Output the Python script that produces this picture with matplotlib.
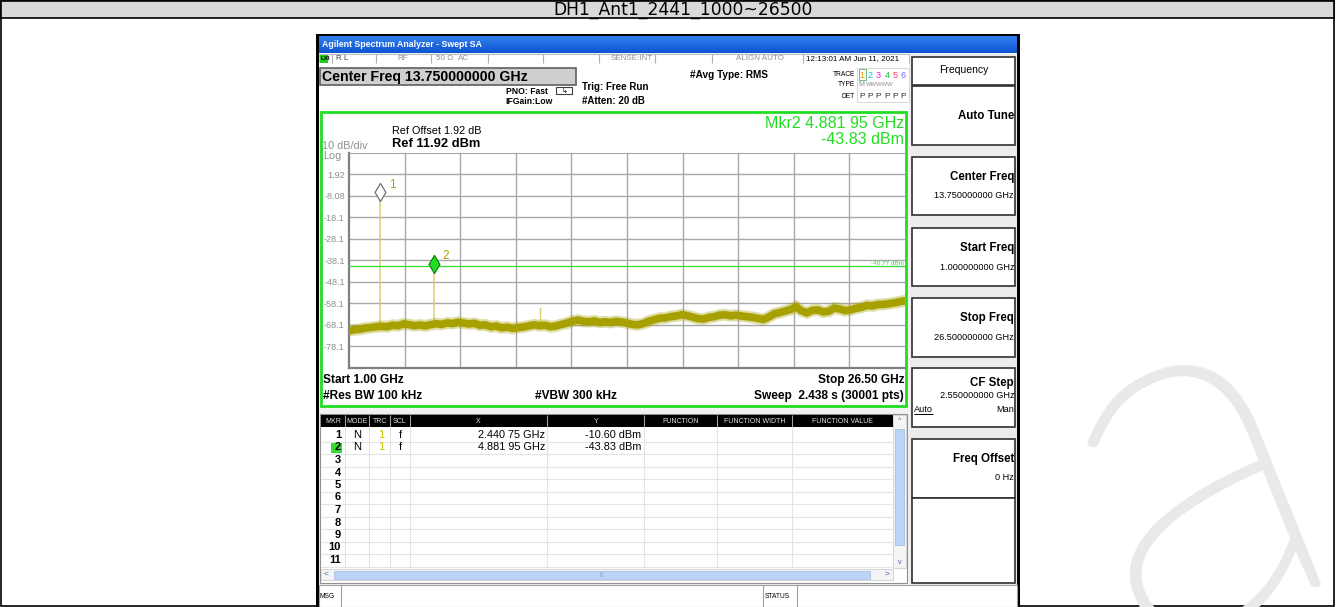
import numpy as np
import matplotlib.pyplot as plt
import matplotlib.patheffects as pe
from matplotlib.patches import Rectangle
from matplotlib.path import Path
from matplotlib.markers import MarkerStyle

W, H = 1336, 607

# sweep setup
start_ghz, stop_ghz = 1.0, 26.5
ref_level = 11.92
db_per_div = 10
y_tick_vals = [1.92, -8.08, -18.08, -28.08, -38.08, -48.08, -58.08, -68.08, -78.08]
y_tick_labels = ['1.92', '-8.08', '-18.1', '-28.1', '-38.1', '-48.1', '-58.1', '-68.1', '-78.1']

# trace level every 0.25 GHz from 1.0 to 26.5 GHz (dBm)
trace_dbm = [-70.8, -70.3, -70.1, -69.5, -69.3, -68.9, -68.7, -68.9, -68.2, -68.4,
             -67.6, -67.9, -68.4, -68.1, -68.5, -67.9, -67.5, -67.8, -67.1, -67.4,
             -66.8, -67.2, -67.6, -67.3, -68.2, -68.0, -68.9, -68.6, -69.4, -69.1,
             -69.7, -69.3, -69.0, -68.5, -68.0, -68.4, -68.2, -68.9, -68.5, -67.8,
             -67.2, -66.3, -65.8, -66.4, -66.6, -66.2, -66.9, -66.6, -66.9, -66.4,
             -66.7, -67.2, -67.8, -68.0, -67.4, -66.3, -65.6, -64.9, -64.8, -64.2,
             -63.9, -63.3, -63.7, -64.4, -65.1, -65.3, -64.6, -64.2, -63.5, -63.3,
             -63.8, -63.5, -63.9, -64.2, -64.5, -65.0, -65.5, -64.4, -62.9, -62.3,
             -61.6, -60.9, -59.6, -61.5, -62.4, -61.3, -61.1, -62.0, -61.7, -60.2,
             -60.6, -61.4, -61.1, -60.3, -59.9, -59.0, -59.2, -58.6, -58.5, -58.2,
             -57.8, -57.3, -56.8]

# markers
mkr_freq = [2.44075, 4.88195]
mkr_level = [-10.60, -43.83]
mkr_x_text = ['2.440 75 GHz', '4.881 95 GHz']
mkr_y_text = ['-10.60 dBm', '-43.83 dBm']
spur_freq, spur_level = 9.76, -60.3
display_line = -40.77

FONT = ['Liberation Sans', 'DejaVu Sans']
OLIVE = '#a6a000'
GREEN = '#22dd22'

fig = plt.figure(figsize=(W / 100, H / 100), dpi=100)
bg = fig.add_axes([0, 0, 1, 1])
bg.set_xlim(0, W)
bg.set_ylim(H, 0)
bg.axis('off')


def box(x0, y0, x1, y1, fc='none', ec='none', lw=1.0, z=1):
    bg.add_patch(Rectangle((x0, y0), x1 - x0, y1 - y0, facecolor=fc,
                           edgecolor=ec, linewidth=lw, zorder=z))


def hline(y, x0, x1, color='black', lw=1.0, z=2):
    bg.plot([x0, x1], [y, y], color=color, lw=lw, zorder=z, solid_capstyle='butt')


def vline(x, y0, y1, color='black', lw=1.0, z=2):
    bg.plot([x, x], [y0, y1], color=color, lw=lw, zorder=z, solid_capstyle='butt')


def t(x, y, s, size=7, color='black', ha='left', weight='normal', **kw):
    bg.text(x, y, s, fontsize=size, color=color, ha=ha, va='center',
            fontweight=weight, family=FONT, zorder=5, **kw)


# document frame and title row
box(1, 1, 1334, 606, fc='white', ec='black', lw=1.2)
box(1, 1, 1334, 18, fc='#d9d9d9', ec='black', lw=1.2)
bg.text(683, 15, 'DH1_Ant1_2441_1000~26500', fontsize=12.3, ha='center', va='baseline',
        family=['DejaVu Sans'], zorder=5)

# faint watermark glyph in the lower right
bg.text(1195, 484, 'a', fontsize=370, color='#e9e9e9', rotation=22,
        ha='center', va='center', family=['Lato', 'Liberation Sans'],
        fontweight='light', zorder=1.2,
        path_effects=[pe.withStroke(linewidth=4, foreground='#e9e9e9')])

# instrument window frame
box(316, 34, 1020, 607, fc='black', z=1.5)
box(319, 53, 1017, 607, fc='#f2f2f2', z=1.5)

# blue caption bar
grad = np.linspace(0, 1, 20)[:, None]
caption = np.dstack([0.05 + 0.15 * (1 - grad), 0.33 + 0.17 * (1 - grad), 0.82 + 0.12 * (1 - grad)])
bg.imshow(caption, extent=(319, 1017, 53, 36), aspect='auto', zorder=1.6)
t(322, 44.5, 'Agilent Spectrum Analyzer - Swept SA', size=6.3, color='white', weight='bold')

# status row
box(319, 54, 909, 63, fc='white', ec='#c0c0c0', lw=0.8, z=1.6)
for sx in [332, 376, 431, 488, 543, 599, 655, 712, 803]:
    vline(sx, 54, 63, color='#b0b0b0', lw=0.8)
box(320, 54.5, 328, 62.5, fc='#22cc22', z=3)
t(320.5, 58.5, 'LXI', size=4.5, color='black', weight='bold')
t(336, 58.5, 'R L', size=5.8, color='#404040')
t(403, 58.5, 'RF', size=5.8, color='#909090', ha='center')
t(436, 58.5, '50 Ω', size=5.8, color='#909090')
t(458, 58.5, 'AC', size=5.8, color='#909090')
t(653, 58.5, 'SENSE:INT', size=5.8, color='#909090', ha='right')
t(760, 58.5, 'ALIGN AUTO', size=5.8, color='#909090', ha='center')
t(806, 58.5, '12:13:01 AM Jun 11, 2021', size=5.8, color='black')

# settings strip
box(319, 63, 909, 111, fc='white', z=1.6)
box(320, 68, 576, 85, fc='#cfcfcf', ec='#606060', lw=1.2, z=1.7)
t(322, 77, 'Center Freq 13.750000000 GHz', size=10.2, weight='bold')
t(548, 91, 'PNO: Fast', size=6.2, weight='bold', ha='right')
t(553, 102, 'IFGain:Low', size=6.2, weight='bold', ha='right')
bg.add_patch(Rectangle((556, 87), 16, 7, facecolor='white', edgecolor='#404040',
                       linewidth=0.8, zorder=3))
t(564, 91.5, '↳', size=5, ha='center')
t(582, 87, 'Trig: Free Run', size=7, weight='bold')
t(582, 101, '#Atten: 20 dB', size=7, weight='bold')
t(690, 75, '#Avg Type: RMS', size=7.2, weight='bold')
t(855, 74, 'TRACE', size=4.8, ha='right')
t(855, 85, 'TYPE', size=4.8, ha='right')
t(855, 96, 'DET', size=4.8, ha='right')
box(857, 68, 909, 102, fc='white', ec='#d0d0d0', lw=0.6, z=1.7)
trace_cols = ['#e89a00', '#00c0e0', '#e020e0', '#20c040', '#ff3060', '#8060ff']
for i, c in enumerate(trace_cols):
    px = 862 + i * 8.3
    t(px, 75, str(i + 1), size=6.5, color=c, ha='center')
    t(px, 96, 'P', size=6.0, color='#303030', ha='center')
box(858.5, 69, 866, 80, ec='#70c070', lw=0.7, z=3)
t(858.5, 85, 'M', size=5.0, color='#909090')
t(866, 85, 'WWWWW', size=4.2, color='#909090')

# plot panel
box(321, 112, 906, 406, fc='white', ec=GREEN, lw=2.0, z=1.7)
t(392, 131, 'Ref Offset 1.92 dB', size=7.8)
t(392, 144, 'Ref 11.92 dBm', size=9.3, weight='bold')
t(322, 146, '10 dB/div', size=7.8, color='#909090')
t(323, 156, 'Log', size=7.8, color='#909090')
t(904, 123, 'Mkr2 4.881 95 GHz', size=11.5, color=GREEN, ha='right')
t(904, 140, '-43.83 dBm', size=11.5, color=GREEN, ha='right')
t(323, 380, 'Start 1.00 GHz', size=8.6, weight='bold')
t(323, 396, '#Res BW 100 kHz', size=8.6, weight='bold')
t(535, 396, '#VBW 300 kHz', size=8.6, weight='bold')
t(904, 380, 'Stop 26.50 GHz', size=8.6, weight='bold', ha='right')
t(904, 396, 'Sweep  2.438 s (30001 pts)', size=8.6, weight='bold', ha='right')

# marker table
box(320, 414, 907, 583, fc='white', ec='#909090', lw=0.8, z=1.7)
box(321, 415, 893, 427, fc='black', z=2)
col_sep = [345, 369, 390, 410, 547, 644, 717, 792]
for cx in col_sep:
    vline(cx, 415, 427, color='#a0a0a0', lw=0.8, z=3)
    vline(cx, 428, 567, color='#e4e4e4', lw=0.8)
heads = [(333, 'MKR'), (357, 'MODE'), (380, 'TRC'), (400, 'SCL'), (478, 'X'),
         (596, 'Y'), (681, 'FUNCTION'), (755, 'FUNCTION WIDTH'), (843, 'FUNCTION VALUE')]
for hx, s in heads:
    t(hx, 421.5, s, size=5.0, color='#e0e0e0', ha='center')
row_y = [435 + 12.5 * i for i in range(11)]
for i, ry in enumerate(row_y):
    hline(ry + 6.5, 321, 893, color='#e4e4e4', lw=0.8)
    if i == 1:
        box(331, ry - 5, 342, ry + 5, fc='#33dd33', z=3)
    t(341, ry, str(i + 1), size=8, weight='bold', ha='right')
for i in range(len(mkr_freq)):
    ry = row_y[i]
    t(357, ry, 'N', size=8, ha='center')
    t(381, ry, '1', size=8, color='#c8c000', ha='center')
    t(400, ry, 'f', size=8, ha='center')
    t(545, ry, mkr_x_text[i], size=7.8, ha='right')
    t(641, ry, mkr_y_text[i], size=7.8, ha='right')
# scroll bars
box(893, 415, 906, 568, fc='#f4f4f4', ec='#d0d0d0', lw=0.6, z=1.8)
box(895, 429, 904, 545, fc='#bcd4f4', ec='#a8c0e8', lw=0.6, z=2)
t(899.5, 421, '^', size=5, color='#4060a0', ha='center')
t(899.5, 562, 'v', size=5, color='#4060a0', ha='center')
box(321, 569, 893, 580, fc='#f4f4f4', ec='#d0d0d0', lw=0.6, z=1.8)
box(334, 570.5, 870, 579, fc='#bcd4f4', ec='#a8c0e8', lw=0.6, z=2)
t(326, 574.5, '<', size=6, color='#4060a0', ha='center')
t(887, 574.5, '>', size=6, color='#4060a0', ha='center')
t(602, 574.5, '|||', size=4, color='#90a8d0', ha='center')

# message line
box(319, 585, 1017, 607, fc='white', ec='#a0a0a0', lw=0.8, z=1.7)
vline(341, 585, 607, color='#a0a0a0', lw=0.8)
vline(763, 585, 607, color='#a0a0a0', lw=0.8)
vline(797, 585, 607, color='#a0a0a0', lw=0.8)
t(320, 596, 'MSG', size=4.8)
t(765, 596, 'STATUS', size=4.8)

# softkey panel
box(910, 54, 1017, 585, fc='#ececec', z=1.6)
keys = [(57, 85), (86, 145), (157, 215), (228, 286), (298, 357), (368, 427), (439, 498), (498, 583)]
for y0, y1 in keys:
    box(912, y0, 1015, y1, fc='white', ec='#303030', lw=1.2, z=2)
t(964, 70, 'Frequency', size=7.5, ha='center')
t(1014, 116, 'Auto Tune', size=8.3, weight='bold', ha='right')
t(1014, 177, 'Center Freq', size=8.3, weight='bold', ha='right')
t(1014, 196, '13.750000000 GHz', size=6.6, ha='right')
t(1014, 248, 'Start Freq', size=8.3, weight='bold', ha='right')
t(1014, 267, '1.000000000 GHz', size=6.6, ha='right')
t(1014, 318, 'Stop Freq', size=8.3, weight='bold', ha='right')
t(1014, 337, '26.500000000 GHz', size=6.6, ha='right')
t(1014, 383, 'CF Step', size=8.3, weight='bold', ha='right')
t(1014, 396, '2.550000000 GHz', size=6.6, ha='right')
t(914, 409, 'Auto', size=6.6)
hline(414, 914, 933, lw=0.7, z=3)
t(1014, 409, 'Man', size=6.6, ha='right')
t(1014, 459, 'Freq Offset', size=8.3, weight='bold', ha='right')
t(1014, 478, '0 Hz', size=6.6, ha='right')

# graticule
gl, gr, gt, gb = 349, 905, 153, 368
ax = fig.add_axes([gl / W, 1 - gb / H, (gr - gl) / W, (gb - gt) / H])
ax.set_xlim(start_ghz, stop_ghz)
ax.set_ylim(ref_level - 10 * db_per_div, ref_level)
ax.set_facecolor('white')
ax.set_xticks(np.linspace(start_ghz, stop_ghz, 11)[1:-1])
ax.set_xticklabels([])
ax.set_yticks(y_tick_vals)
ax.set_yticklabels(y_tick_labels)
ax.tick_params(length=0, pad=3)
ax.tick_params(axis='y', labelsize=6.6, labelcolor='#909090')
for lab in ax.get_yticklabels():
    lab.set_family(FONT)
ax.grid(True, color='#a8a8a8', lw=1.0)
for side in ['left', 'bottom']:
    ax.spines[side].set_color('#808080')
    ax.spines[side].set_linewidth(1.6)
ax.spines['top'].set_color('#a8a8a8')
ax.spines['right'].set_visible(False)

freq_grid = np.linspace(start_ghz, stop_ghz, len(trace_dbm))
# fuzzy fringe, then the solid core of the noisy trace
ax.plot(freq_grid, trace_dbm, color=OLIVE, lw=8.5, alpha=0.35, zorder=3,
        solid_joinstyle='miter')
ax.plot(freq_grid, trace_dbm, color=OLIVE, lw=5.5, zorder=3.1, solid_joinstyle='miter')

# signal spikes rising from the floor
for f, lvl in zip(mkr_freq, mkr_level):
    base = np.interp(f, freq_grid, trace_dbm)
    ax.plot([f, f], [base, lvl], color='#d8d070', lw=1.1, zorder=2.5)
ax.plot([spur_freq, spur_freq],
        [np.interp(spur_freq, freq_grid, trace_dbm), spur_level],
        color='#d8d070', lw=1.0, zorder=2.5)

# display line
ax.axhline(display_line, color='#33dd33', lw=0.9, zorder=2.8)
ax.text(stop_ghz - 0.05, display_line + 1.2, '-40.77 dBm', fontsize=4.6,
        color='#33dd33', ha='right', va='center', family=FONT, zorder=4)

# diamond markers sitting on their peaks
diamond = MarkerStyle(Path([(0, 0), (-0.6, 1), (0, 2), (0.6, 1), (0, 0)],
                           [Path.MOVETO, Path.LINETO, Path.LINETO, Path.LINETO, Path.CLOSEPOLY]))
ax.plot(mkr_freq[0], mkr_level[0], marker=diamond, ms=26, mfc='white',
        mec='#707070', mew=0.9, ls='none', zorder=6)
ax.plot(mkr_freq[1], mkr_level[1], marker=diamond, ms=26, mfc='#22dd22',
        mec='#108010', mew=0.9, ls='none', zorder=6)
for i, (f, lvl) in enumerate(zip(mkr_freq, mkr_level)):
    ax.annotate(str(i + 1), (f, lvl), xytext=(6, 12), textcoords='offset points',
                fontsize=8.5, color='#b0a000', family=FONT, va='center', zorder=7)

fig.savefig('out.png', dpi=100)
